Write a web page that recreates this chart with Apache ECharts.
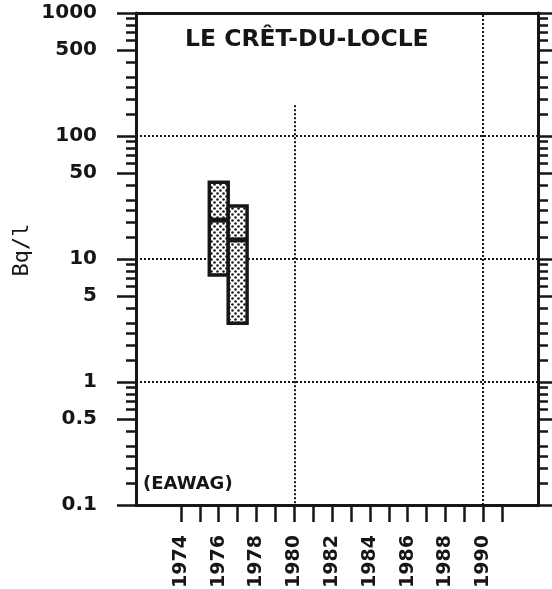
<!DOCTYPE html>
<html>
<head>
<meta charset="utf-8">
<script src="https://cdn.jsdelivr.net/npm/echarts@6/dist/echarts.min.js"></script>
<style>
html,body{margin:0;padding:0;background:#fff;}
#chart{width:552px;height:589px;}
</style>
</head>
<body>
<div id="chart"></div>
<script>
// ---- data ----
var years = [1976, 1977];
var minVals = [7.4, 3.0];
var medVals = [20.7, 14.3];
var maxVals = [42, 27];

var yTickValues = [0.1, 0.5, 1, 5, 10, 50, 100, 500, 1000];
var yTickLabels = ['0.1', '0.5', '1', '5', '10', '50', '100', '500', '1000'];
var yMinorTicks = [0.15, 0.2, 0.25, 0.3, 0.4, 0.6, 0.7, 0.8, 0.9,
                   1.5, 2, 2.5, 3, 4, 6, 7, 8, 9,
                   15, 20, 25, 30, 40, 60, 70, 80, 90,
                   150, 200, 250, 300, 400, 600, 700, 800, 900];
var xTickYears = [1974,1975,1976,1977,1978,1979,1980,1981,1982,1983,1984,1985,1986,1987,1988,1989,1990,1991];
var xLabelYears = [1974,1976,1978,1980,1982,1984,1986,1988,1990];
var gridYValues = [1, 10, 100];
var gridXYears = [1990];
var partialGridYear = 1980;
var partialGridTop = 178;

var title = 'LE CRÊT-DU-LOCLE';
var source = '(EAWAG)';
var yName = 'Bq/l';

// ---- helpers ----
var L = function (v) { return Math.log10(v); };
var majorLog = yTickValues.map(L);
var minorLog = yMinorTicks.map(L);
var ink = '#161616';

var pc = document.createElement('canvas');
pc.width = 6; pc.height = 6;
var ctx = pc.getContext('2d');
ctx.fillStyle = '#fff'; ctx.fillRect(0, 0, 6, 6);
ctx.fillStyle = '#1a1a1a';
ctx.beginPath(); ctx.arc(1.5, 1.5, 1.3, 0, Math.PI * 2); ctx.fill();
ctx.beginPath(); ctx.arc(4.5, 4.5, 1.3, 0, Math.PI * 2); ctx.fill();
var pattern = { image: pc, repeat: 'repeat' };

var boxData = years.map(function (y, i) {
  return [y, L(minVals[i]), L(medVals[i]), L(maxVals[i])];
});

function yAxisDef(pos, len, vals, showLine, showLabel) {
  return {
    type: 'value', min: -1, max: 3, position: pos,
    splitLine: { show: false },
    axisLine: { show: showLine, onZero: false, lineStyle: { color: ink, width: 3 } },
    axisTick: { show: true, customValues: vals, length: len, lineStyle: { color: ink, width: 2.5 } },
    axisLabel: showLabel ? {
      show: true, customValues: majorLog, margin: 39,
      color: ink, fontFamily: 'DejaVu Sans', fontWeight: 'bold', fontSize: 20,
      formatter: function (v) {
        for (var i = 0; i < majorLog.length; i++) {
          if (Math.abs(v - majorLog[i]) < 1e-6) return yTickLabels[i];
        }
        return '';
      }
    } : { show: false }
  };
}

var chart = echarts.init(document.getElementById('chart'), null, { renderer: 'canvas' });
chart.setOption({
  backgroundColor: '#fff',
  animation: false,
  grid: { left: 136, top: 13, right: 14, bottom: 84, outerBoundsMode: 'none', containLabel: false },
  xAxis: [{
    type: 'value', min: 1971.62, max: 1992.9, position: 'bottom',
    splitLine: { show: false },
    axisLine: { show: true, onZero: false, lineStyle: { color: ink, width: 3 } },
    axisTick: { show: true, customValues: xTickYears, length: 17, lineStyle: { color: ink, width: 2.5 } },
    axisLabel: {
      show: true, customValues: xLabelYears, rotate: 90, margin: 30,
      color: ink, fontFamily: 'DejaVu Sans', fontWeight: 'bold', fontSize: 19,
      formatter: function (v) { return String(Math.round(v)); }
    }
  }, {
    type: 'value', min: 1971.62, max: 1992.9, position: 'top',
    splitLine: { show: false },
    axisLine: { show: true, onZero: false, lineStyle: { color: ink, width: 3 } },
    axisTick: { show: false }, axisLabel: { show: false }
  }],
  yAxis: [
    yAxisDef('left', 19, majorLog, true, true),
    yAxisDef('left', 10, minorLog, false, false),
    yAxisDef('right', 14, majorLog, true, false),
    yAxisDef('right', 10, minorLog, false, false)
  ],
  graphic: [
    { type: 'text', left: 185, top: 28, style: { text: title, fill: ink, font: 'bold 23.5px "DejaVu Sans"' } },
    { type: 'text', left: 143, top: 475, style: { text: source, fill: ink, font: 'bold 18px "DejaVu Sans"' } },
    { type: 'text', x: 22, y: 250, rotation: Math.PI / 2,
      style: { text: yName, fill: ink, font: '22px "DejaVu Sans Mono"', align: 'center', verticalAlign: 'middle' } }
  ],
  series: [{
    type: 'line', data: [], z: 1, silent: true,
    markLine: {
      symbol: 'none', silent: true, animation: false,
      label: { show: false },
      lineStyle: { color: ink, width: 2, type: [2, 2] },
      data: gridYValues.map(function (v) { return { yAxis: L(v) }; })
        .concat(gridXYears.map(function (v) { return { xAxis: v }; }))
        .concat([[{ coord: [partialGridYear, L(partialGridTop)] }, { coord: [partialGridYear, -1] }]])
    }
  }, {
    type: 'custom', z: 5,
    data: boxData,
    renderItem: function (params, api) {
      var x = api.value(0), lo = api.value(1), med = api.value(2), hi = api.value(3);
      var p1 = api.coord([x - 0.5, hi]);
      var p2 = api.coord([x + 0.5, lo]);
      var m1 = api.coord([x - 0.5, med]);
      var m2 = api.coord([x + 0.5, med]);
      return {
        type: 'group',
        children: [
          { type: 'rect', shape: { x: p1[0], y: p1[1], width: p2[0] - p1[0], height: p2[1] - p1[1] },
            style: { fill: pattern, stroke: ink, lineWidth: 3.5 } },
          { type: 'line', shape: { x1: m1[0], y1: m1[1], x2: m2[0], y2: m2[1] },
            style: { stroke: ink, lineWidth: 5 } }
        ]
      };
    }
  }]
});
</script>
</body>
</html>
